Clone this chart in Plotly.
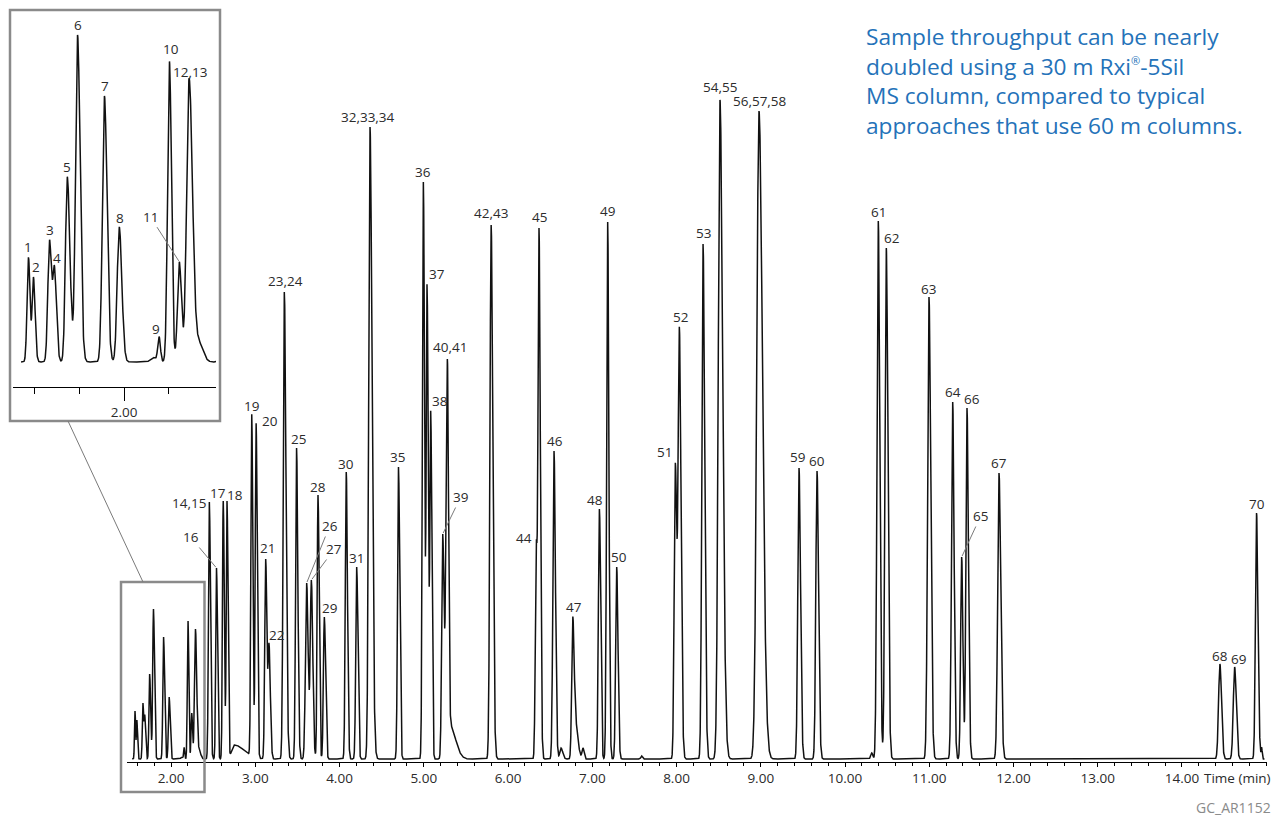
import numpy as np
import plotly.graph_objects as go

# ---------------- data ----------------
peak_labels = ["1", "2", "3", "4", "5", "6", "7", "8", "9", "10", "11", "12,13",
               "14,15", "16", "17", "18", "19", "20", "21", "22", "23,24", "25",
               "26", "27", "28", "29", "30", "31", "32,33,34", "35", "36", "37",
               "38", "39", "40,41", "42,43", "44", "45", "46", "47", "48", "49",
               "50", "51", "52", "53", "54,55", "56,57,58", "59", "60", "61", "62",
               "63", "64", "65", "66", "67", "68", "69", "70"]
peak_rt = [1.573, 1.595, 1.667, 1.689, 1.746, 1.792, 1.912, 1.978, 2.156, 2.202, 2.246, 2.290,
           2.455, 2.540, 2.620, 2.665, 2.958, 3.010, 3.124, 3.163, 3.345, 3.490,
           3.610, 3.666, 3.745, 3.820, 4.080, 4.204, 4.362, 4.700, 4.995, 5.039,
           5.083, 5.225, 5.280, 5.800, 6.335, 6.368, 6.546, 6.768, 7.085, 7.183,
           7.290, 7.986, 8.034, 8.315, 8.516, 8.979, 9.454, 9.668, 10.395, 10.490,
           10.997, 11.278, 11.385, 11.448, 11.828, 14.450, 14.625, 14.885]
peak_apex = [51, 42, 59, 47, 88, 153, 125, 65, 14.6, 141, 49, 133,
             260, 194, 261, 261, 348, 339, 203, 119, 470, 314,
             179, 182, 267, 145, 290, 195, 635, 295, 580, 478,
             351, 228, 403, 537, 219, 534, 311, 145, 253, 540,
             195, 299, 435, 518, 662, 651, 294, 291, 541, 514,
             465, 360, 205, 354, 289, 98, 95, 249]
peak_sigma = [0.0062, 0.0058, 0.0075, 0.007, 0.008, 0.009, 0.009, 0.009, 0.006, 0.008, 0.008, 0.011,
              0.010, 0.009, 0.009, 0.009, 0.010, 0.010, 0.011, 0.012, 0.013, 0.011,
              0.014, 0.013, 0.010, 0.011, 0.011, 0.011, 0.015, 0.011, 0.011, 0.010,
              0.010, 0.012, 0.016, 0.014, 0.011, 0.012, 0.013, 0.012, 0.012, 0.012,
              0.012, 0.013, 0.015, 0.014, 0.020, 0.026, 0.014, 0.014, 0.015, 0.015,
              0.016, 0.014, 0.012, 0.013, 0.016, 0.016, 0.016, 0.013]
peak_tail = [1.1, 1.3, 1.2, 1.3, 1.5, 1.3, 1.3, 1.3, 1.0, 1.15, 1.2, 1.4,
             1.3, 1.3, 1.35, 1.3, 1.3, 1.3, 1.2, 1.3, 1.5, 1.4,
             1.3, 1.3, 1.3, 1.3, 1.3, 1.3, 1.6, 1.3, 1.3, 1.5,
             1.3, 1.3, 0.85, 1.4, 1.0, 1.3, 1.3, 1.3, 1.2, 1.2,
             1.3, 1.3, 1.3, 1.4, 1.6, 1.6, 1.3, 1.3, 1.2, 1.3,
             1.3, 1.2, 1.2, 1.3, 1.3, 1.2, 1.2, 1.2]

# unlabelled minor features (humps, tails, small bumps)
extra_rt = [2.130, 2.335, 2.750, 5.310, 6.630, 6.800, 6.890, 7.587, 10.317, 14.925, 14.945]
extra_apex = [5, 13, 17, 70, 14, 55, 14, 6, 9, 22, 15]
extra_sigma = [0.012, 0.012, 0.030, 0.030, 0.015, 0.018, 0.012, 0.010, 0.012, 0.006, 0.006]
extra_tail = [1.0, 1.5, 4.0, 2.2, 1.3, 1.6, 1.0, 1.0, 1.0, 1.0, 1.0]

baseline_level = 3.0
time_start, time_end = 1.54, 14.98

major_ticks = [2, 3, 4, 5, 6, 7, 8, 9, 10, 11, 12, 13, 14]
major_tick_text = ["2.00", "3.00", "4.00", "5.00", "6.00", "7.00", "8.00", "9.00",
                   "10.00", "11.00", "12.00", "13.00", "14.00"]
inset_labels = peak_labels[:12]

# ---------------- build chromatogram from peak table ----------------
all_rt = np.array(peak_rt + extra_rt)
all_apex = np.array(peak_apex + extra_apex, dtype=float)
all_sig = np.array(peak_sigma + extra_sigma)
all_tail = np.array(peak_tail + extra_tail)


def shape(t, rt, s, tail):
    t = np.asarray(t, dtype=float)
    sd = np.where(t < rt, s, s * tail)
    return np.exp(-0.5 * ((t - rt) / sd) ** 2)


G = np.array([[shape(all_rt[i], all_rt[j], all_sig[j], all_tail[j]) for j in range(len(all_rt))]
              for i in range(len(all_rt))])
amps = np.linalg.solve(G, all_apex - baseline_level)
amps = np.clip(amps, 0, None)

t = np.arange(time_start, time_end, 0.0008)
signal = np.full_like(t, baseline_level)
for a, rt, s, tl in zip(amps, all_rt, all_sig, all_tail):
    signal += a * shape(t, rt, s, tl)
t = np.round(t, 4)
signal = np.round(signal, 2)

# ---------------- geometry (pixels of the 1275x817 page) ----------------
W, H = 1275, 817


def px(x):
    return x / W


def py(y):
    return 1 - y / H


main_x0, main_x1 = 127, 1267
main_y_top, main_y_axis = 62, 762
ins_x0, ins_x1 = 13, 216
ins_y_top, ins_y_axis = 20, 387

LABEL_FONT = "Open Sans, Noto Sans, sans-serif"
LSIZE = 13.5
TXT = "#2b2b2b"

fig = go.Figure()
fig.add_trace(go.Scatter(x=t, y=signal, mode="lines", line=dict(color="#111111", width=1.5),
                         xaxis="x", yaxis="y", hoverinfo="skip", showlegend=False))
fig.add_trace(go.Scatter(x=t, y=signal, mode="lines", line=dict(color="#111111", width=1.5),
                         xaxis="x2", yaxis="y2", hoverinfo="skip", showlegend=False))

minor_main = [round(v, 1) for v in np.arange(1.6, 15.01, 0.2) if abs(v - round(v)) > 1e-6] + [15.0]

fig.update_layout(
    width=W, height=H, margin=dict(l=0, r=0, t=0, b=0),
    paper_bgcolor="white", plot_bgcolor="rgba(0,0,0,0)",
    showlegend=False,
    xaxis=dict(domain=[px(main_x0), px(main_x1)], range=[1.4777, 15.009], anchor="y",
               showline=True, linecolor="black", linewidth=1, showgrid=False, zeroline=False,
               tickmode="array", tickvals=major_ticks, ticktext=major_tick_text,
               ticks="outside", ticklen=4, tickwidth=1, tickcolor="black",
               tickfont=dict(family=LABEL_FONT, size=LSIZE, color=TXT),
               minor=dict(tickmode="array", tickvals=minor_main, ticks="outside", ticklen=3,
                          tickwidth=1, tickcolor="black", showgrid=False)),
    yaxis=dict(domain=[py(main_y_axis), py(main_y_top)], range=[0, main_y_axis - main_y_top],
               visible=False, anchor="x"),
    xaxis2=dict(domain=[px(ins_x0), px(ins_x1)], range=[1.504, 2.41], anchor="y2",
                showline=True, linecolor="black", linewidth=1.2, showgrid=False, zeroline=False,
                tickmode="array", tickvals=[2.0], ticktext=["2.00"],
                ticks="outside", ticklen=13, tickwidth=1.2, tickcolor="black",
                tickfont=dict(family=LABEL_FONT, size=LSIZE, color=TXT),
                minor=dict(tickmode="array", tickvals=[1.6, 1.8, 2.2], ticks="outside", ticklen=6,
                           tickwidth=1.2, tickcolor="black", showgrid=False)),
    yaxis2=dict(domain=[py(ins_y_axis), py(ins_y_top)], range=[-8.49, 159.86],
                visible=False, anchor="x2"),
)

# ---------------- peak labels ----------------
# (dx, dy, xanchor) : text centre offset from apex in px (dy up)
label_offset = {
    "2": (3, 10, "center"), "4": (3, 8, "center"), "7": (1, 10, "center"), "8": (1, 9, "center"),
    "9": (-3, 8, "center"), "10": (2, 12, "center"), "12,13": (1, 7, "center"),
    "14,15": (-1, -1, "right"), "17": (-5, 8, "center"), "18": (8, 6, "center"),
    "19": (0, 8, "center"), "20": (4, 2, "left"), "21": (2, 11, "center"), "22": (-2, 8, "left"),
    "23,24": (1, 11, "center"), "25": (2, 9, "center"), "28": (0, 8, "center"),
    "29": (5, 9, "center"), "30": (0, 8, "center"), "31": (0, 9, "center"),
    "32,33,34": (-2, 10, "center"), "35": (-1, 10, "center"), "36": (0, 10, "center"),
    "37": (0, 10, "left"), "38": (-1, 10, "left"), "40,41": (3, 12, "center"),
    "42,43": (0, 12, "center"), "44": (-2, 5, "right"), "45": (0, 11, "center"),
    "46": (1, 10, "center"), "47": (1, 10, "center"), "48": (-4, 9, "center"),
    "49": (0, 11, "center"), "50": (2, 10, "center"), "51": (-1, 11, "right"),
    "52": (1, 10, "center"), "53": (0, 11, "center"), "54,55": (0, 13, "center"),
    "56,57,58": (1, 10, "center"), "59": (-2, 11, "center"), "60": (0, 10, "center"),
    "61": (0, 9, "center"), "62": (5, 10, "center"), "63": (0, 8, "center"),
    "64": (0, 10, "center"), "66": (5, 9, "center"), "67": (0, 10, "center"),
    "68": (0, 8, "center"), "69": (4, 8, "center"), "70": (0, 9, "center"),
}
# labels with leader lines: (ax, ay) text centre offset in px (screen, ay down)
leader_offset = {"11": (-29, -45), "16": (-26, -31), "26": (23, -57), "27": (23, -31),
                 "39": (18, -37), "65": (19, -41)}

annotations = []
for lab, rt, ap in zip(peak_labels, peak_rt, peak_apex):
    inset = lab in inset_labels
    xr, yr = ("x2", "y2") if inset else ("x", "y")
    if lab in leader_offset:
        ax, ay = leader_offset[lab]
        annotations.append(dict(x=rt, y=ap, xref=xr, yref=yr, text=lab, showarrow=True,
                                ax=ax, ay=ay, arrowhead=0, arrowwidth=1, arrowcolor="#7a7a7a",
                                standoff=1, font=dict(family=LABEL_FONT, size=LSIZE, color=TXT)))
    else:
        dx, dy, xa = label_offset.get(lab, (0, 10, "center"))
        annotations.append(dict(x=rt, y=ap, xref=xr, yref=yr, text=lab, showarrow=False,
                                xanchor=xa, yanchor="middle", xshift=dx, yshift=dy,
                                font=dict(family=LABEL_FONT, size=LSIZE, color=TXT)))

annotations.append(dict(x=px(1273), y=py(778), xref="paper", yref="paper", text="Time (min)",
                        showarrow=False, xanchor="right", yanchor="middle",
                        font=dict(family=LABEL_FONT, size=LSIZE, color=TXT)))
annotations.append(dict(x=px(1273), y=py(807), xref="paper", yref="paper", text="GC_AR1152",
                        showarrow=False, xanchor="right", yanchor="middle",
                        font=dict(family="Noto Sans Condensed, Open Sans, sans-serif", size=14,
                                  color="#8a8a8a")))
annotations.append(dict(x=px(864), y=py(81), xref="paper", yref="paper",
                        text="Sample throughput can be nearly<br>doubled using a 30 m Rxi"
                             "<sup><span style='font-size:11px'>®</span></sup>-5Sil"
                             "<br>MS column, compared to typical<br>approaches that use 60 m columns.",
                        showarrow=False, xanchor="left", yanchor="middle", align="left",
                        font=dict(family="Open Sans, Noto Sans, sans-serif", size=22.7,
                                  color="#2472b9")))
fig.update_layout(annotations=annotations)

# ---------------- inset frame, zoom box and connector ----------------
BOX = "#8a8a8a"
fig.add_shape(type="rect", xref="paper", yref="paper", x0=px(10), x1=px(220), y0=py(421), y1=py(10),
              line=dict(color=BOX, width=2.5))
fig.add_shape(type="rect", xref="paper", yref="paper", x0=px(121), x1=px(204.5), y0=py(792), y1=py(582),
              line=dict(color=BOX, width=2.5))
fig.add_shape(type="line", xref="paper", yref="paper", x0=px(68), x1=px(143), y0=py(421), y1=py(582),
              line=dict(color="#7a7a7a", width=1))

fig.write_html("out.html", config={"displayModeBar": False},
               post_script="document.body.style.margin='0';")
